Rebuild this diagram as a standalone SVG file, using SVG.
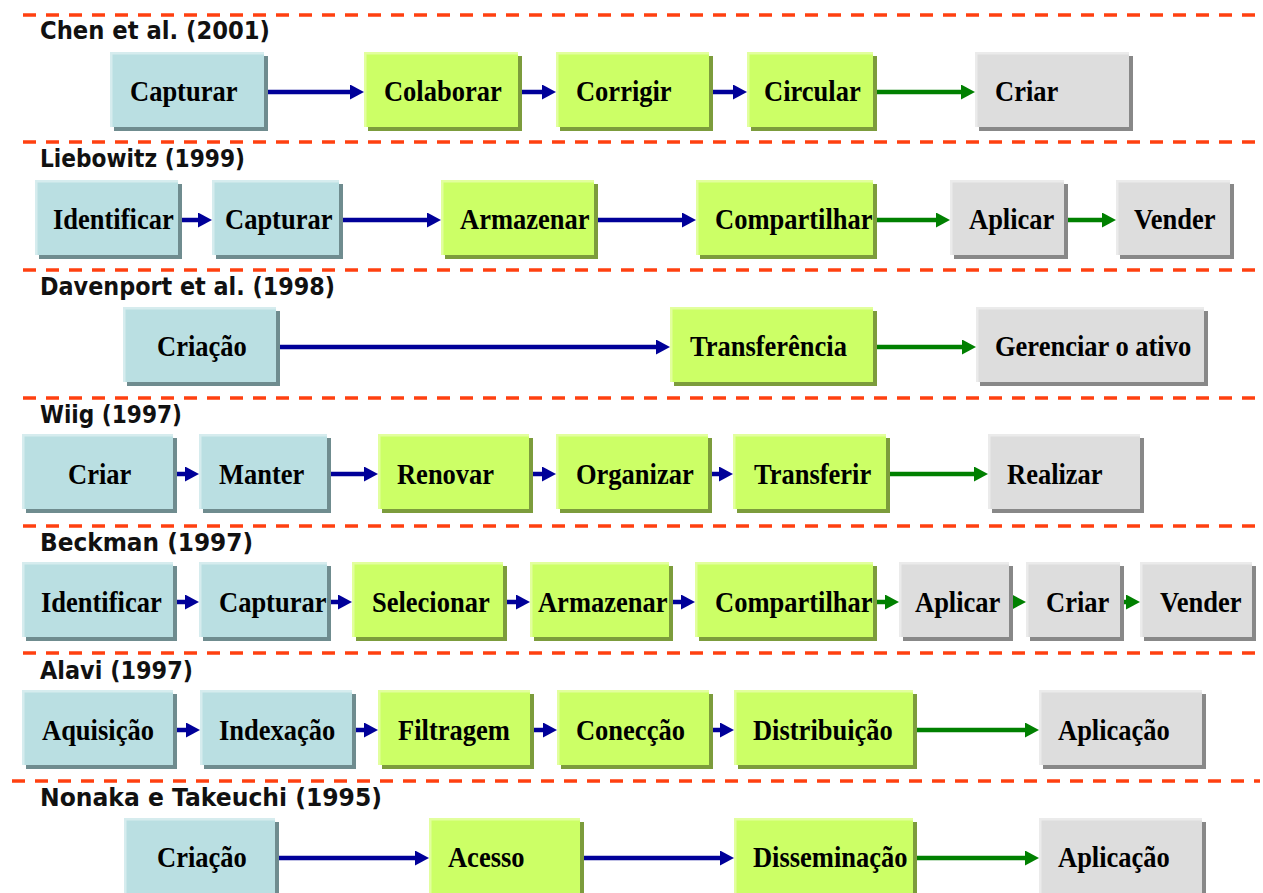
<svg xmlns="http://www.w3.org/2000/svg" width="1263" height="893" viewBox="0 0 1263 893">
<defs>
<style>
.sep{stroke:#FF4010;stroke-width:3.5;stroke-dasharray:13 10;fill:none}
.ttl{font-family:"DejaVu Sans","Liberation Sans",sans-serif;font-weight:bold;font-size:24.5px;fill:#111}
.lbl{font-family:"Liberation Serif","Times New Roman",serif;font-weight:bold;font-size:26.5px;fill:#000;transform-box:fill-box;transform-origin:50% 60%;transform:scaleY(1.08)}
.blue .sh{fill:#6F8C8F}.blue .hl{fill:#D6ECEE}.blue .bg{fill:#BADFE2}
.green .sh{fill:#7C9C3C}.green .hl{fill:#E2FF9E}.green .bg{fill:#CCFF66}
.gray .sh{fill:#888888}.gray .hl{fill:#EBEBEB}.gray .bg{fill:#DDDDDD}
.ab{stroke:#000099;stroke-width:4.5;fill:none;marker-end:url(#hb)}
.ag{stroke:#008000;stroke-width:4.5;fill:none;marker-end:url(#hg)}
</style>
<marker id="hb" markerUnits="userSpaceOnUse" markerWidth="14" markerHeight="15" viewBox="0 0 14 15" refX="1" refY="7.5" orient="auto"><path d="M0,0 L14,7.5 L0,15 z" fill="#000099"/></marker>
<marker id="hg" markerUnits="userSpaceOnUse" markerWidth="14" markerHeight="15" viewBox="0 0 14 15" refX="1" refY="7.5" orient="auto"><path d="M0,0 L14,7.5 L0,15 z" fill="#008000"/></marker>
</defs>
<rect width="1263" height="893" fill="#fff"/>
<g id="separators">
<line class="sep" x1="23" y1="15" x2="1260" y2="15"/>
<line class="sep" x1="23" y1="142" x2="1260" y2="142"/>
<line class="sep" x1="23" y1="270" x2="1260" y2="270"/>
<line class="sep" x1="23" y1="398" x2="1260" y2="398"/>
<line class="sep" x1="23" y1="526" x2="1260" y2="526"/>
<line class="sep" x1="23" y1="653" x2="1260" y2="653"/>
<line class="sep" x1="12" y1="781" x2="1260" y2="781"/>
</g>
<g id="titles">
<text class="ttl" x="40" y="39" textLength="230" lengthAdjust="spacingAndGlyphs">Chen et al. (2001)</text>
<text class="ttl" x="40" y="167" textLength="205" lengthAdjust="spacingAndGlyphs">Liebowitz (1999)</text>
<text class="ttl" x="40" y="295" textLength="295" lengthAdjust="spacingAndGlyphs">Davenport et al. (1998)</text>
<text class="ttl" x="40" y="423" textLength="142" lengthAdjust="spacingAndGlyphs">Wiig (1997)</text>
<text class="ttl" x="40" y="551" textLength="213" lengthAdjust="spacingAndGlyphs">Beckman (1997)</text>
<text class="ttl" x="40" y="679" textLength="153" lengthAdjust="spacingAndGlyphs">Alavi (1997)</text>
<text class="ttl" x="40" y="806" textLength="342" lengthAdjust="spacingAndGlyphs">Nonaka e Takeuchi (1995)</text>
</g>
<g id="connectors">
<line class="ab" x1="265" y1="92" x2="351" y2="92"/>
<line class="ab" x1="519" y1="92" x2="543" y2="92"/>
<line class="ab" x1="710" y1="92" x2="734" y2="92"/>
<line class="ag" x1="874" y1="92" x2="962" y2="92"/>
<line class="ab" x1="179" y1="220" x2="199" y2="220"/>
<line class="ab" x1="340" y1="220" x2="428" y2="220"/>
<line class="ab" x1="595" y1="220" x2="683" y2="220"/>
<line class="ag" x1="874" y1="220" x2="937" y2="220"/>
<line class="ag" x1="1065" y1="220" x2="1103" y2="220"/>
<line class="ab" x1="277" y1="347" x2="657" y2="347"/>
<line class="ag" x1="874" y1="347" x2="963" y2="347"/>
<line class="ab" x1="174" y1="474" x2="186" y2="474"/>
<line class="ab" x1="328" y1="474" x2="365" y2="474"/>
<line class="ab" x1="530" y1="474" x2="543" y2="474"/>
<line class="ab" x1="709" y1="474" x2="720" y2="474"/>
<line class="ag" x1="887" y1="474" x2="975" y2="474"/>
<line class="ab" x1="174" y1="602" x2="186" y2="602"/>
<line class="ab" x1="328" y1="602" x2="339" y2="602"/>
<line class="ab" x1="504" y1="602" x2="517" y2="602"/>
<line class="ab" x1="670" y1="602" x2="682" y2="602"/>
<line class="ag" x1="874" y1="602" x2="886" y2="602"/>
<line class="ag" x1="1011" y1="602" x2="1013" y2="602"/>
<line class="ag" x1="1124" y1="602" x2="1127" y2="602"/>
<line class="ab" x1="174" y1="730" x2="187" y2="730"/>
<line class="ab" x1="353" y1="730" x2="365" y2="730"/>
<line class="ab" x1="531" y1="730" x2="544" y2="730"/>
<line class="ab" x1="710" y1="730" x2="721" y2="730"/>
<line class="ag" x1="914" y1="730" x2="1026" y2="730"/>
<line class="ab" x1="276" y1="858" x2="416" y2="858"/>
<line class="ab" x1="581" y1="858" x2="721" y2="858"/>
<line class="ag" x1="914" y1="858" x2="1026" y2="858"/>
</g>
<g id="row1">
<g id="n1-capturar" class="blue"><rect class="sh" x="114" y="56" width="154" height="75"/><rect class="hl" x="110" y="52" width="154" height="75"/><rect class="bg" x="112.5" y="54.5" width="151.5" height="72.5"/><text class="lbl" x="130" y="101">Capturar</text></g>
<g id="n1-colaborar" class="green"><rect class="sh" x="368" y="56" width="154" height="75"/><rect class="hl" x="364" y="52" width="154" height="75"/><rect class="bg" x="366.5" y="54.5" width="151.5" height="72.5"/><text class="lbl" x="384" y="101">Colaborar</text></g>
<g id="n1-corrigir" class="green"><rect class="sh" x="560" y="56" width="153" height="75"/><rect class="hl" x="556" y="52" width="153" height="75"/><rect class="bg" x="558.5" y="54.5" width="150.5" height="72.5"/><text class="lbl" x="576" y="101">Corrigir</text></g>
<g id="n1-circular" class="green"><rect class="sh" x="751" y="56" width="126" height="75"/><rect class="hl" x="747" y="52" width="126" height="75"/><rect class="bg" x="749.5" y="54.5" width="123.5" height="72.5"/><text class="lbl" x="764" y="101">Circular</text></g>
<g id="n1-criar" class="gray"><rect class="sh" x="979" y="56" width="154" height="75"/><rect class="hl" x="975" y="52" width="154" height="75"/><rect class="bg" x="977.5" y="54.5" width="151.5" height="72.5"/><text class="lbl" x="995" y="101">Criar</text></g>
</g>
<g id="row2">
<g id="n2-identificar" class="blue"><rect class="sh" x="39" y="184" width="143" height="75"/><rect class="hl" x="35" y="180" width="143" height="75"/><rect class="bg" x="37.5" y="182.5" width="140.5" height="72.5"/><text class="lbl" x="53" y="229">Identificar</text></g>
<g id="n2-capturar" class="blue"><rect class="sh" x="216" y="184" width="127" height="75"/><rect class="hl" x="212" y="180" width="127" height="75"/><rect class="bg" x="214.5" y="182.5" width="124.5" height="72.5"/><text class="lbl" x="225" y="229">Capturar</text></g>
<g id="n2-armazenar" class="green"><rect class="sh" x="445" y="184" width="153" height="75"/><rect class="hl" x="441" y="180" width="153" height="75"/><rect class="bg" x="443.5" y="182.5" width="150.5" height="72.5"/><text class="lbl" x="460" y="229">Armazenar</text></g>
<g id="n2-compartilhar" class="green"><rect class="sh" x="700" y="184" width="177" height="75"/><rect class="hl" x="696" y="180" width="177" height="75"/><rect class="bg" x="698.5" y="182.5" width="174.5" height="72.5"/><text class="lbl" x="715" y="229">Compartilhar</text></g>
<g id="n2-aplicar" class="gray"><rect class="sh" x="954" y="184" width="114" height="75"/><rect class="hl" x="950" y="180" width="114" height="75"/><rect class="bg" x="952.5" y="182.5" width="111.5" height="72.5"/><text class="lbl" x="969" y="229">Aplicar</text></g>
<g id="n2-vender" class="gray"><rect class="sh" x="1120" y="184" width="114" height="75"/><rect class="hl" x="1116" y="180" width="114" height="75"/><rect class="bg" x="1118.5" y="182.5" width="111.5" height="72.5"/><text class="lbl" x="1134" y="229">Vender</text></g>
</g>
<g id="row3">
<g id="n3-criacao" class="blue"><rect class="sh" x="127" y="311" width="153" height="75"/><rect class="hl" x="123" y="307" width="153" height="75"/><rect class="bg" x="125.5" y="309.5" width="150.5" height="72.5"/><text class="lbl" x="157" y="356">Criação</text></g>
<g id="n3-transferencia" class="green"><rect class="sh" x="674" y="311" width="203" height="75"/><rect class="hl" x="670" y="307" width="203" height="75"/><rect class="bg" x="672.5" y="309.5" width="200.5" height="72.5"/><text class="lbl" x="690" y="356">Transferência</text></g>
<g id="n3-gerenciar" class="gray"><rect class="sh" x="980" y="311" width="228" height="75"/><rect class="hl" x="976" y="307" width="228" height="75"/><rect class="bg" x="978.5" y="309.5" width="225.5" height="72.5"/><text class="lbl" x="995" y="356">Gerenciar o ativo</text></g>
</g>
<g id="row4">
<g id="n4-criar" class="blue"><rect class="sh" x="26" y="438" width="151" height="75"/><rect class="hl" x="22" y="434" width="151" height="75"/><rect class="bg" x="24.5" y="436.5" width="148.5" height="72.5"/><text class="lbl" x="68" y="484">Criar</text></g>
<g id="n4-manter" class="blue"><rect class="sh" x="203" y="438" width="128" height="75"/><rect class="hl" x="199" y="434" width="128" height="75"/><rect class="bg" x="201.5" y="436.5" width="125.5" height="72.5"/><text class="lbl" x="219" y="484">Manter</text></g>
<g id="n4-renovar" class="green"><rect class="sh" x="382" y="438" width="151" height="75"/><rect class="hl" x="378" y="434" width="151" height="75"/><rect class="bg" x="380.5" y="436.5" width="148.5" height="72.5"/><text class="lbl" x="397" y="484">Renovar</text></g>
<g id="n4-organizar" class="green"><rect class="sh" x="560" y="438" width="152" height="75"/><rect class="hl" x="556" y="434" width="152" height="75"/><rect class="bg" x="558.5" y="436.5" width="149.5" height="72.5"/><text class="lbl" x="576" y="484">Organizar</text></g>
<g id="n4-transferir" class="green"><rect class="sh" x="737" y="438" width="153" height="75"/><rect class="hl" x="733" y="434" width="153" height="75"/><rect class="bg" x="735.5" y="436.5" width="150.5" height="72.5"/><text class="lbl" x="754" y="484">Transferir</text></g>
<g id="n4-realizar" class="gray"><rect class="sh" x="992" y="438" width="152" height="75"/><rect class="hl" x="988" y="434" width="152" height="75"/><rect class="bg" x="990.5" y="436.5" width="149.5" height="72.5"/><text class="lbl" x="1007" y="484">Realizar</text></g>
</g>
<g id="row5">
<g id="n5-identificar" class="blue"><rect class="sh" x="26" y="566" width="151" height="75"/><rect class="hl" x="22" y="562" width="151" height="75"/><rect class="bg" x="24.5" y="564.5" width="148.5" height="72.5"/><text class="lbl" x="41" y="612">Identificar</text></g>
<g id="n5-capturar" class="blue"><rect class="sh" x="203" y="566" width="128" height="75"/><rect class="hl" x="199" y="562" width="128" height="75"/><rect class="bg" x="201.5" y="564.5" width="125.5" height="72.5"/><text class="lbl" x="219" y="612">Capturar</text></g>
<g id="n5-selecionar" class="green"><rect class="sh" x="356" y="566" width="151" height="75"/><rect class="hl" x="352" y="562" width="151" height="75"/><rect class="bg" x="354.5" y="564.5" width="148.5" height="72.5"/><text class="lbl" x="372" y="612">Selecionar</text></g>
<g id="n5-armazenar" class="green"><rect class="sh" x="534" y="566" width="139" height="75"/><rect class="hl" x="530" y="562" width="139" height="75"/><rect class="bg" x="532.5" y="564.5" width="136.5" height="72.5"/><text class="lbl" x="538" y="612">Armazenar</text></g>
<g id="n5-compartilhar" class="green"><rect class="sh" x="699" y="566" width="178" height="75"/><rect class="hl" x="695" y="562" width="178" height="75"/><rect class="bg" x="697.5" y="564.5" width="175.5" height="72.5"/><text class="lbl" x="715" y="612">Compartilhar</text></g>
<g id="n5-aplicar" class="gray"><rect class="sh" x="903" y="566" width="110" height="75"/><rect class="hl" x="899" y="562" width="110" height="75"/><rect class="bg" x="901.5" y="564.5" width="107.5" height="72.5"/><text class="lbl" x="915" y="612">Aplicar</text></g>
<g id="n5-criar" class="gray"><rect class="sh" x="1030" y="566" width="94" height="75"/><rect class="hl" x="1026" y="562" width="94" height="75"/><rect class="bg" x="1028.5" y="564.5" width="91.5" height="72.5"/><text class="lbl" x="1046" y="612">Criar</text></g>
<g id="n5-vender" class="gray"><rect class="sh" x="1144" y="566" width="112" height="75"/><rect class="hl" x="1140" y="562" width="112" height="75"/><rect class="bg" x="1142.5" y="564.5" width="109.5" height="72.5"/><text class="lbl" x="1160" y="612">Vender</text></g>
</g>
<g id="row6">
<g id="n6-aquisicao" class="blue"><rect class="sh" x="26" y="694" width="151" height="75"/><rect class="hl" x="22" y="690" width="151" height="75"/><rect class="bg" x="24.5" y="692.5" width="148.5" height="72.5"/><text class="lbl" x="42" y="740">Aquisição</text></g>
<g id="n6-indexacao" class="blue"><rect class="sh" x="204" y="694" width="152" height="75"/><rect class="hl" x="200" y="690" width="152" height="75"/><rect class="bg" x="202.5" y="692.5" width="149.5" height="72.5"/><text class="lbl" x="219" y="740">Indexação</text></g>
<g id="n6-filtragem" class="green"><rect class="sh" x="382" y="694" width="152" height="75"/><rect class="hl" x="378" y="690" width="152" height="75"/><rect class="bg" x="380.5" y="692.5" width="149.5" height="72.5"/><text class="lbl" x="398" y="740">Filtragem</text></g>
<g id="n6-coneccao" class="green"><rect class="sh" x="561" y="694" width="152" height="75"/><rect class="hl" x="557" y="690" width="152" height="75"/><rect class="bg" x="559.5" y="692.5" width="149.5" height="72.5"/><text class="lbl" x="576" y="740">Conecção</text></g>
<g id="n6-distribuicao" class="green"><rect class="sh" x="738" y="694" width="179" height="75"/><rect class="hl" x="734" y="690" width="179" height="75"/><rect class="bg" x="736.5" y="692.5" width="176.5" height="72.5"/><text class="lbl" x="753" y="740">Distribuição</text></g>
<g id="n6-aplicacao" class="gray"><rect class="sh" x="1043" y="694" width="163" height="75"/><rect class="hl" x="1039" y="690" width="163" height="75"/><rect class="bg" x="1041.5" y="692.5" width="160.5" height="72.5"/><text class="lbl" x="1058" y="740">Aplicação</text></g>
</g>
<g id="row7">
<g id="n7-criacao" class="blue"><rect class="sh" x="128" y="822" width="151" height="75"/><rect class="hl" x="124" y="818" width="151" height="75"/><rect class="bg" x="126.5" y="820.5" width="148.5" height="72.5"/><text class="lbl" x="157" y="867">Criação</text></g>
<g id="n7-acesso" class="green"><rect class="sh" x="433" y="822" width="151" height="75"/><rect class="hl" x="429" y="818" width="151" height="75"/><rect class="bg" x="431.5" y="820.5" width="148.5" height="72.5"/><text class="lbl" x="448" y="867">Acesso</text></g>
<g id="n7-disseminacao" class="green"><rect class="sh" x="738" y="822" width="179" height="75"/><rect class="hl" x="734" y="818" width="179" height="75"/><rect class="bg" x="736.5" y="820.5" width="176.5" height="72.5"/><text class="lbl" x="753" y="867">Disseminação</text></g>
<g id="n7-aplicacao" class="gray"><rect class="sh" x="1043" y="822" width="163" height="75"/><rect class="hl" x="1039" y="818" width="163" height="75"/><rect class="bg" x="1041.5" y="820.5" width="160.5" height="72.5"/><text class="lbl" x="1058" y="867">Aplicação</text></g>
</g>
</svg>
